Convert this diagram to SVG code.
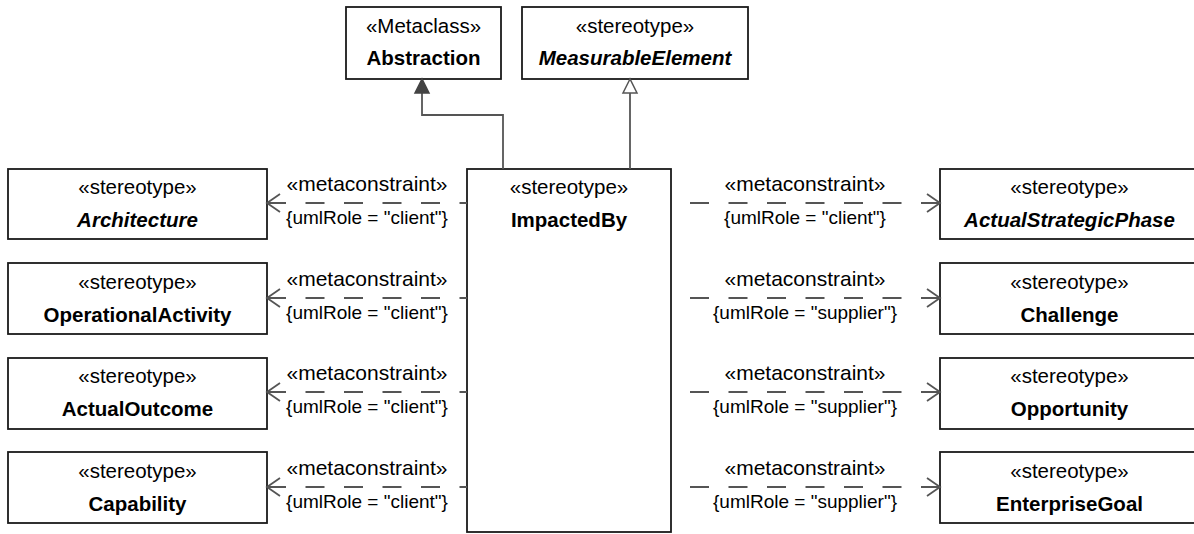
<svg xmlns="http://www.w3.org/2000/svg" width="1194" height="534" viewBox="0 0 1194 534">
<defs>
<style>
.box{fill:#fff;stroke:#1a1a1a;stroke-width:1.8}
.st{font-family:"Liberation Sans",Arial,sans-serif;font-size:20.5px;fill:#000;text-anchor:middle}
.nm{font-family:"Liberation Sans",Arial,sans-serif;font-size:20.5px;font-weight:bold;fill:#000;text-anchor:middle}
.it{font-style:italic}
.lb{font-family:"Liberation Sans",Arial,sans-serif;font-size:21px;fill:#000;text-anchor:middle}
.cn{font-family:"Liberation Sans",Arial,sans-serif;font-size:19px;fill:#000;text-anchor:middle}
.dep{fill:none;stroke:#555;stroke-width:1.8;stroke-dasharray:19 19.5}
.gen{fill:none;stroke:#555;stroke-width:1.8}
.ah{fill:none;stroke:#555;stroke-width:1.8}
</style>
</defs>
<g id="Abstraction"><rect class="box" x="346" y="7" width="155" height="72"/><text class="st" x="423.5" y="33">«Metaclass»</text><text class="nm" x="423.5" y="65">Abstraction</text></g>
<g id="MeasurableElement"><rect class="box" x="522" y="7" width="226" height="72"/><text class="st" x="635" y="33">«stereotype»</text><text class="nm it" x="635" y="65">MeasurableElement</text></g>
<g id="ImpactedBy"><rect class="box" x="467" y="169" width="204" height="363"/><text class="st" x="569" y="194">«stereotype»</text><text class="nm" x="569" y="227">ImpactedBy</text></g>
<g id="Architecture"><rect class="box" x="8" y="169" width="259" height="70"/><text class="st" x="137.5" y="194">«stereotype»</text><text class="nm it" x="137.5" y="227">Architecture</text></g>
<g id="OperationalActivity"><rect class="box" x="8" y="263" width="259" height="71"/><text class="st" x="137.5" y="289">«stereotype»</text><text class="nm" x="137.5" y="322">OperationalActivity</text></g>
<g id="ActualOutcome"><rect class="box" x="8" y="358" width="259" height="71"/><text class="st" x="137.5" y="383">«stereotype»</text><text class="nm" x="137.5" y="416">ActualOutcome</text></g>
<g id="Capability"><rect class="box" x="8" y="452" width="259" height="71"/><text class="st" x="137.5" y="478">«stereotype»</text><text class="nm" x="137.5" y="511">Capability</text></g>
<g id="ActualStrategicPhase"><rect class="box" x="940" y="169" width="259" height="70"/><text class="st" x="1069.5" y="194">«stereotype»</text><text class="nm it" x="1069.5" y="227">ActualStrategicPhase</text></g>
<g id="Challenge"><rect class="box" x="940" y="263" width="259" height="71"/><text class="st" x="1069.5" y="289">«stereotype»</text><text class="nm" x="1069.5" y="322">Challenge</text></g>
<g id="Opportunity"><rect class="box" x="940" y="358" width="259" height="71"/><text class="st" x="1069.5" y="383">«stereotype»</text><text class="nm" x="1069.5" y="416">Opportunity</text></g>
<g id="EnterpriseGoal"><rect class="box" x="940" y="452" width="259" height="71"/><text class="st" x="1069.5" y="478">«stereotype»</text><text class="nm" x="1069.5" y="511">EnterpriseGoal</text></g>
<g id="connectors">
<path class="gen" d="M503 169 V115 H422 V93"/>
<path d="M422 79 L415 93 L429 93 Z" fill="#444" stroke="#444" stroke-width="1.5"/>
<path class="gen" d="M630 169 V93"/>
<path d="M630 79 L623 93 L637 93 Z" fill="#fff" stroke="#555" stroke-width="1.5"/>
<path class="dep" d="M267 203 H467"/><path class="ah" d="M280 194 L267 203 L280 212"/>
<path class="dep" d="M267 298 H467"/><path class="ah" d="M280 289 L267 298 L280 307"/>
<path class="dep" d="M267 392 H467"/><path class="ah" d="M280 383 L267 392 L280 401"/>
<path class="dep" d="M267 487 H467"/><path class="ah" d="M280 478 L267 487 L280 496"/>
<path class="dep" d="M940 203 H671"/><path class="ah" d="M927 194 L940 203 L927 212"/>
<path class="dep" d="M940 298 H671"/><path class="ah" d="M927 289 L940 298 L927 307"/>
<path class="dep" d="M940 392 H671"/><path class="ah" d="M927 383 L940 392 L927 401"/>
<path class="dep" d="M940 487 H671"/><path class="ah" d="M927 478 L940 487 L927 496"/>
<text class="lb" x="367" y="191">«metaconstraint»</text><text class="cn" x="367" y="224">{umlRole = "client"}</text>
<text class="lb" x="367" y="286">«metaconstraint»</text><text class="cn" x="367" y="319">{umlRole = "client"}</text>
<text class="lb" x="367" y="380">«metaconstraint»</text><text class="cn" x="367" y="413">{umlRole = "client"}</text>
<text class="lb" x="367" y="475">«metaconstraint»</text><text class="cn" x="367" y="508">{umlRole = "client"}</text>
<text class="lb" x="805" y="191">«metaconstraint»</text><text class="cn" x="805" y="224">{umlRole = "client"}</text>
<text class="lb" x="805" y="286">«metaconstraint»</text><text class="cn" x="805" y="319">{umlRole = "supplier"}</text>
<text class="lb" x="805" y="380">«metaconstraint»</text><text class="cn" x="805" y="413">{umlRole = "supplier"}</text>
<text class="lb" x="805" y="475">«metaconstraint»</text><text class="cn" x="805" y="508">{umlRole = "supplier"}</text>
</g>
</svg>
